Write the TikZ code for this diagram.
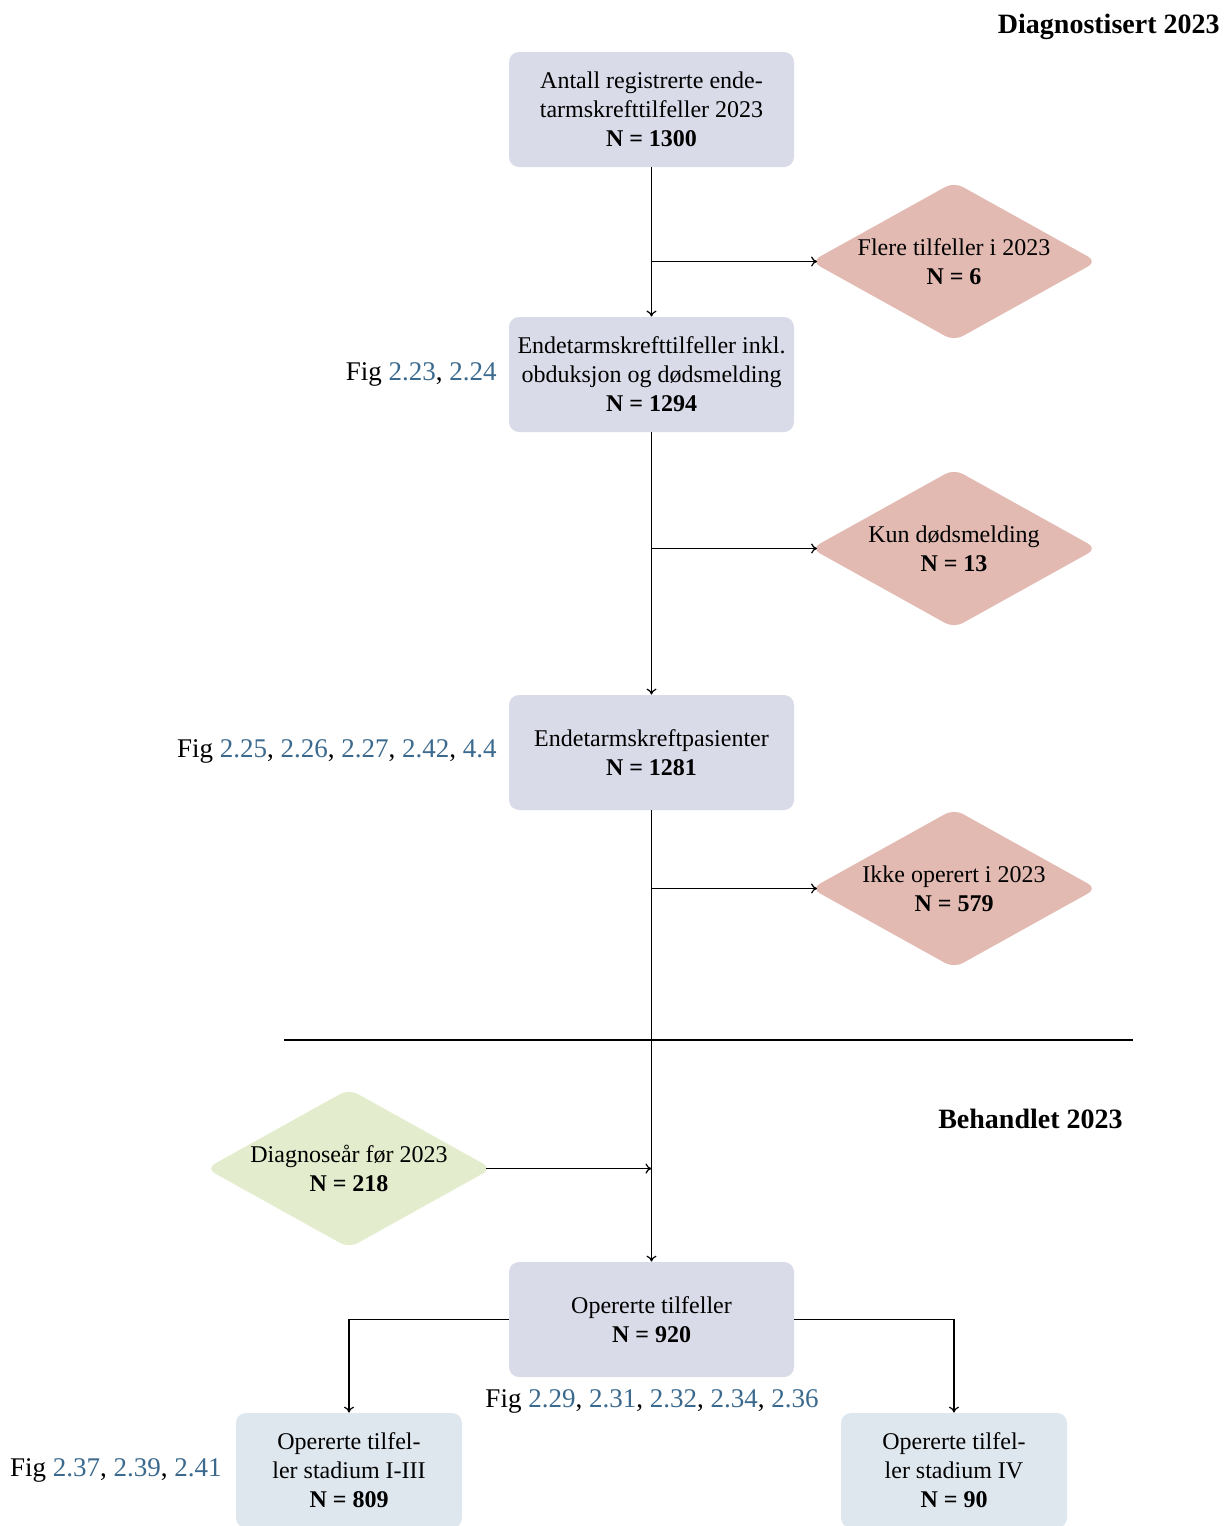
\documentclass[tikz,border=0pt]{standalone}
\usepackage{fontspec}
\setmainfont{Liberation Serif}
\usetikzlibrary{backgrounds,calc,arrows.meta}
\definecolor{boxc}{HTML}{D9DBE8}
\definecolor{salm}{HTML}{E2BAB2}
\definecolor{greenc}{HTML}{E3EDCD}
\definecolor{bluec}{HTML}{DFE7EE}
\definecolor{linkc}{HTML}{3B6A8E}
\newcommand{\lk}[1]{\textcolor{linkc}{#1}}
\begin{document}
\begin{tikzpicture}[x=0.5pt,y=-0.5pt,
  stepbox/.style={rectangle, rounded corners=5pt, fill=boxc, minimum width=142.5pt, minimum height=57.5pt, align=center, inner sep=0pt, font=\fontsize{12}{14.5}\selectfont},
  smallbox/.style={stepbox, fill=bluec, minimum width=113pt},
  decision/.style={rectangle, minimum width=142.5pt, minimum height=79pt, align=center, inner sep=0pt, font=\fontsize{12}{14.5}\selectfont},
  figlabel/.style={inner sep=0pt, font=\fontsize{13.5}{16}\selectfont},
  heading/.style={inner sep=0pt, font=\fontsize{14}{17}\selectfont\bfseries},
  conn/.style={line width=0.6pt, -{To[length=3pt,width=5pt]}},
  sepline/.style={line width=1.4pt}]
\useasboundingbox (0,0) rectangle (1224,1526);

\node[heading, anchor=east] (t1) at (1220,27) {Diagnostisert 2023};
\node[heading, anchor=east] (t2) at (1123,1119) {Behandlet 2023};

\node[stepbox] (b1) at (651.5,109.5) {Antall registrerte ende-\\tarmskrefttilfeller 2023\\\textbf{N = 1300}};
\node[stepbox] (b2) at (651.5,374.5) {Endetarmskrefttilfeller inkl.\\obduksjon og dødsmelding\\\textbf{N = 1294}};
\node[stepbox] (b3) at (651.5,752.5) {Endetarmskreftpasienter\\\textbf{N = 1281}};
\node[stepbox] (b4) at (651.5,1319.5) {Opererte tilfeller\\\textbf{N = 920}};
\node[smallbox] (b5) at (349,1470.5) {Opererte tilfel-\\ler stadium I-III\\\textbf{N = 809}};
\node[smallbox] (b6) at (954,1470.5) {Opererte tilfel-\\ler stadium IV\\\textbf{N = 90}};

\node[decision] (d1) at (954,261.5) {Flere tilfeller i 2023\\\textbf{N = 6}};
\node[decision] (d2) at (954,548.5) {Kun dødsmelding\\\textbf{N = 13}};
\node[decision] (d3) at (954,888.5) {Ikke operert i 2023\\\textbf{N = 579}};
\node[decision] (d4) at (349,1168.5) {Diagnoseår før 2023\\\textbf{N = 218}};

\begin{scope}[on background layer]
  \foreach \d/\c in {d1/salm,d2/salm,d3/salm,d4/greenc}
    \fill[\c, rounded corners=5pt] (\d.west) -- (\d.north) -- (\d.east) -- (\d.south) -- cycle;
\end{scope}

\node[figlabel, anchor=east] (f1) at (497,374) {Fig \lk{2.23}, \lk{2.24}};
\node[figlabel, anchor=east] (f2) at (497,751) {Fig \lk{2.25}, \lk{2.26}, \lk{2.27}, \lk{2.42}, \lk{4.4}};
\node[figlabel] (f3) at (652,1401) {Fig \lk{2.29}, \lk{2.31}, \lk{2.32}, \lk{2.34}, \lk{2.36}};
\node[figlabel, anchor=east] (f4) at (222,1470) {Fig \lk{2.37}, \lk{2.39}, \lk{2.41}};

\coordinate (sepL) at (284,1040);
\coordinate (sepR) at (1133,1040);
\draw[sepline] (sepL) -- (sepR);

\draw[conn] (b1) -- (b2);
\draw[conn] (b1.south |- d1.west) -- ($(d1.west)+(6,0)$);
\draw[conn] (b2) -- (b3);
\draw[conn] (b2.south |- d2.west) -- ($(d2.west)+(6,0)$);
\draw[conn] (b3) -- (b4);
\draw[conn] (b3.south |- d3.west) -- ($(d3.west)+(6,0)$);
\draw[conn] ($(d4.east)+(-6,0)$) -- (d4.east -| b4.north);
\draw[conn] (b4.west) -| (b5.north);
\draw[conn] (b4.east) -| (b6.north);
\end{tikzpicture}
\end{document}
